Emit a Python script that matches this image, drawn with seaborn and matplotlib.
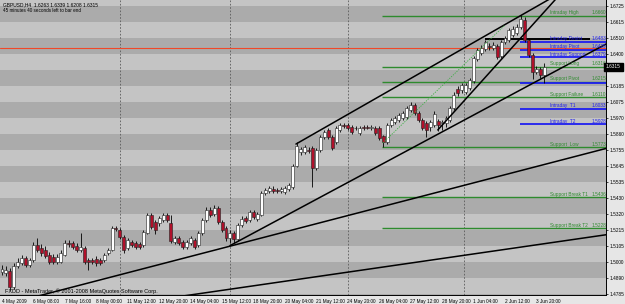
import matplotlib
matplotlib.use("Agg")
import matplotlib.pyplot as plt
import matplotlib.transforms as mtransforms
import numpy as np
import pandas as pd
import seaborn as sns

# ---------------- data ----------------
opens = [1.4933, 1.4926, 1.4940, 1.4832, 1.4974, 1.4994, 1.5027, 1.4980, 1.5014, 1.5115,
         1.5095, 1.5081, 1.5048, 1.5034, 1.5001, 1.5001, 1.5048, 1.5128, 1.5128, 1.5108,
         1.5081, 1.5095, 1.5014, 1.5014, 1.5021, 1.5014, 1.5014, 1.5061, 1.5081, 1.5230,
         1.5216, 1.5169, 1.5095, 1.5135, 1.5128, 1.5122, 1.5115, 1.5196, 1.5317, 1.5270,
         1.5263, 1.5283, 1.5317, 1.5263, 1.5135, 1.5162, 1.5135, 1.5102, 1.5128, 1.5149,
         1.5115, 1.5196, 1.5283, 1.5351, 1.5324, 1.5364, 1.5270, 1.5230, 1.5162, 1.5196,
         1.5155, 1.5250, 1.5297, 1.5283, 1.5337, 1.5290, 1.5317, 1.5465, 1.5479, 1.5492,
         1.5486, 1.5479, 1.5472, 1.5492, 1.5506, 1.5647, 1.5741, 1.5741, 1.5755, 1.5768,
         1.5634, 1.5755, 1.5843, 1.5890, 1.5843, 1.5809, 1.5890, 1.5923, 1.5923, 1.5910,
         1.5903, 1.5870, 1.5910, 1.5910, 1.5903, 1.5903, 1.5903, 1.5849, 1.5809, 1.5923,
         1.5944, 1.5957, 1.5971, 1.5977, 1.6024, 1.6058, 1.6004, 1.5957, 1.5937, 1.5910,
         1.5923, 1.5950, 1.5937, 1.5937, 1.5957, 1.6038, 1.6166, 1.6159, 1.6146, 1.6173,
         1.6220, 1.6368, 1.6408, 1.6435, 1.6456, 1.6442, 1.6456, 1.6388, 1.6483, 1.6496,
         1.6530, 1.6543, 1.6584, 1.6631, 1.6496, 1.6395, 1.6280, 1.6301, 1.6263]
closes = [1.4953, 1.4947, 1.4832, 1.4974, 1.5001, 1.5027, 1.4980, 1.5014, 1.5115, 1.5081,
          1.5061, 1.5041, 1.5001, 1.5001, 1.5034, 1.5061, 1.5128, 1.5122, 1.5102, 1.5081,
          1.5102, 1.5001, 1.5001, 1.5001, 1.4994, 1.4994, 1.5048, 1.5081, 1.5230, 1.5223,
          1.5169, 1.5081, 1.5149, 1.5115, 1.5102, 1.5102, 1.5203, 1.5317, 1.5236, 1.5216,
          1.5297, 1.5317, 1.5283, 1.5142, 1.5162, 1.5128, 1.5102, 1.5135, 1.5162, 1.5102,
          1.5196, 1.5283, 1.5351, 1.5317, 1.5364, 1.5270, 1.5216, 1.5162, 1.5196, 1.5155,
          1.5250, 1.5290, 1.5277, 1.5337, 1.5304, 1.5324, 1.5465, 1.5486, 1.5499, 1.5479,
          1.5479, 1.5492, 1.5499, 1.5519, 1.5647, 1.5782, 1.5762, 1.5775, 1.5751, 1.5634,
          1.5755, 1.5843, 1.5876, 1.5843, 1.5768, 1.5903, 1.5923, 1.5917, 1.5903, 1.5876,
          1.5900, 1.5903, 1.5903, 1.5906, 1.5910, 1.5870, 1.5836, 1.5809, 1.5923, 1.5957,
          1.5971, 1.5991, 1.6004, 1.6038, 1.6058, 1.6004, 1.5957, 1.5903, 1.5890, 1.5944,
          1.5997, 1.5923, 1.5944, 1.5971, 1.6038, 1.6125, 1.6139, 1.6193, 1.6193, 1.6227,
          1.6375, 1.6429, 1.6442, 1.6483, 1.6449, 1.6462, 1.6381, 1.6483, 1.6509, 1.6563,
          1.6570, 1.6584, 1.6637, 1.6496, 1.6395, 1.6280, 1.6301, 1.6260, 1.6315]
highs = [1.4980, 1.4974, 1.4960, 1.4994, 1.5027, 1.5048, 1.5041, 1.5027, 1.5135, 1.5162,
         1.5122, 1.5108, 1.5068, 1.5054, 1.5054, 1.5081, 1.5149, 1.5149, 1.5142, 1.5128,
         1.5196, 1.5108, 1.5027, 1.5027, 1.5041, 1.5027, 1.5061, 1.5095, 1.5243, 1.5243,
         1.5230, 1.5182, 1.5162, 1.5149, 1.5142, 1.5135, 1.5216, 1.5331, 1.5331, 1.5283,
         1.5310, 1.5331, 1.5331, 1.5317, 1.5176, 1.5176, 1.5149, 1.5149, 1.5176, 1.5162,
         1.5209, 1.5297, 1.5371, 1.5371, 1.5385, 1.5378, 1.5283, 1.5243, 1.5216, 1.5209,
         1.5263, 1.5310, 1.5310, 1.5351, 1.5351, 1.5337, 1.5479, 1.5499, 1.5513, 1.5513,
         1.5499, 1.5506, 1.5513, 1.5533, 1.5661, 1.5809, 1.5775, 1.5789, 1.5775, 1.5782,
         1.5768, 1.5856, 1.5890, 1.5903, 1.5856, 1.5917, 1.5937, 1.5937, 1.5937, 1.5923,
         1.5917, 1.5917, 1.5923, 1.5923, 1.5923, 1.5917, 1.5917, 1.5856, 1.5937, 1.5971,
         1.5984, 1.6004, 1.6018, 1.6051, 1.6078, 1.6072, 1.6018, 1.5971, 1.5950, 1.5957,
         1.6018, 1.5964, 1.5957, 1.5984, 1.6051, 1.6146, 1.6186, 1.6206, 1.6206, 1.6240,
         1.6388, 1.6442, 1.6462, 1.6496, 1.6476, 1.6483, 1.6469, 1.6496, 1.6523, 1.6577,
         1.6590, 1.6604, 1.6661, 1.6651, 1.6509, 1.6408, 1.6321, 1.6314, 1.6339]
lows = [1.4913, 1.4906, 1.4812, 1.4819, 1.4960, 1.4980, 1.4967, 1.4967, 1.5001, 1.5068,
        1.5041, 1.5027, 1.4987, 1.4987, 1.4987, 1.4994, 1.5041, 1.5102, 1.5088, 1.5068,
        1.5068, 1.4987, 1.4947, 1.4987, 1.4974, 1.4980, 1.5001, 1.5048, 1.5075, 1.5209,
        1.5155, 1.5061, 1.5081, 1.5102, 1.5088, 1.5088, 1.5102, 1.5189, 1.5223, 1.5189,
        1.5243, 1.5270, 1.5270, 1.5128, 1.5122, 1.5115, 1.5088, 1.5088, 1.5115, 1.5088,
        1.5102, 1.5182, 1.5270, 1.5304, 1.5310, 1.5256, 1.5203, 1.5142, 1.5128, 1.5128,
        1.5142, 1.5236, 1.5263, 1.5270, 1.5290, 1.5277, 1.5310, 1.5452, 1.5465, 1.5465,
        1.5465, 1.5465, 1.5459, 1.5479, 1.5492, 1.5640, 1.5721, 1.5728, 1.5735, 1.5506,
        1.5620, 1.5741, 1.5829, 1.5829, 1.5755, 1.5795, 1.5876, 1.5903, 1.5890, 1.5863,
        1.5890, 1.5856, 1.5890, 1.5896, 1.5890, 1.5856, 1.5822, 1.5775, 1.5795, 1.5910,
        1.5930, 1.5944, 1.5957, 1.5964, 1.6011, 1.5991, 1.5944, 1.5890, 1.5843, 1.5883,
        1.5910, 1.5883, 1.5890, 1.5910, 1.5944, 1.6024, 1.6119, 1.6139, 1.6132, 1.6159,
        1.6206, 1.6355, 1.6395, 1.6422, 1.6429, 1.6429, 1.6368, 1.6375, 1.6469, 1.6483,
        1.6516, 1.6530, 1.6570, 1.6483, 1.6381, 1.6233, 1.6267, 1.6240, 1.6208]

time_labels = ["4 May 2009", "6 May 08:00", "7 May 16:00", "8 May 00:00", "11 May 12:00",
               "12 May 20:00", "14 May 04:00", "15 May 12:00", "18 May 20:00", "20 May 04:00",
               "21 May 12:00", "24 May 20:00", "26 May 04:00", "27 May 12:00", "28 May 20:00",
               "1 Jun 04:00", "2 Jun 12:00", "3 Jun 20:00"]
price_labels = ["1.6725", "1.6615", "1.6510", "1.6400", "1.6295", "1.6185", "1.6075", "1.5970",
                "1.5860", "1.5755", "1.5645", "1.5535", "1.5430", "1.5320", "1.5215",
                "1.5105", "1.5000", "1.4890", "1.4785"]

header_line1 = "GBPUSD,H4  1.6263 1.6339 1.6208 1.6315"
header_line2 = "45 minutes 40 seconds left to bar end"
copyright_text = "FXDD - MetaTrader, \u00a9 2001-2008 MetaQuotes Software Corp."
current_price = 1.6315

level_names = ["Intraday High", "Intraday Resist", "Intraday Pivot", "Intraday Support",
               "Support Long", "Support Pivot", "Support Failure", "Intraday  T1",
               "Intraday  T2", "Support  Low", "Support Break T1", "Support Break T2"]
level_values = [1.6660, 1.6483, 1.6429, 1.6379, 1.6316, 1.6215, 1.6110, 1.6033,
                1.5928, 1.5773, 1.5436, 1.5228]
level_groups = ["support", "intraday", "intraday", "intraday", "support", "support",
                "support", "intraday", "intraday", "support", "support", "support"]
extra_blue_level = 1.6204
red_pivot_level = 1.6439
prev_high_level = 1.6503

# trend lines: two anchor points each (bar index, price)
trend_lines = {
    "a": [(12.2, 1.4792), (152.2, 1.5755)],
    "b": [(47.8, 1.4778), (153.7, 1.5184)],
    "d": [(59.3, 1.5129), (147.6, 1.6382)],
    "e": [(110.9, 1.5890), (140.7, 1.6765)],
    "f": [(74.8, 1.5795), (138.9, 1.6765)],
}
channel_dotted = [(96.9, 1.5802), (128.0, 1.6597)]
week_separators = [30, 58, 88, 117.6]

# ---------------- styling ----------------
sns.set_theme(style="white")
plt.rcParams["font.family"] = ["Liberation Sans", "DejaVu Sans"]

W, H = 625, 304
fig = plt.figure(figsize=(W / 100, H / 100), dpi=100)
fig.patch.set_facecolor("#E6E6E6")
ax = fig.add_axes([0, 9 / H, 606 / W, 295 / H])
ax.set_facecolor("#C4C4C4")

XMIN, XMAX = -0.51, 153.7
YMIN, YMAX = 1.47782, 1.67654
ax.set_xlim(XMIN, XMAX)
ax.set_ylim(YMIN, YMAX)

# price grid (label positions) and alternating bands between grid lines
grid_top, grid_bot = float(price_labels[0]), float(price_labels[-1])
step = (grid_top - grid_bot) / (len(price_labels) - 1)
grid_levels = grid_top - step * np.arange(len(price_labels))
for k in range(-1, len(price_labels)):
    top = grid_top - k * step
    col = "#ABABAB" if k % 2 == 0 else "#C4C4C4"
    ax.axhspan(top - step, top, color=col, lw=0, zorder=0)

# week separators
for xs in week_separators:
    ax.axvline(xs, color="#5A5A5A", lw=0.6, ls=(0, (2, 2)), zorder=1)

# horizontal levels
blue = "#1E1EF0"
green = "#2E8B2E"
for name, val, grp in zip(level_names, level_values, level_groups):
    if grp == "intraday":
        x0, col, lw = 131.8, blue, 1.3
    else:
        x0, col, lw = 96.7, green, 1.0
    ax.hlines(val, x0, XMAX, color=col, lw=lw, zorder=2)
    ax.text(139.4, val + 0.0004, name, fontsize=3.4, color=col, ha="left", va="bottom", zorder=6)
    ax.text(150.0, val + 0.0004, f"{val:.4f}", fontsize=3.4, color=col, ha="left", va="bottom", zorder=6)
ax.hlines(extra_blue_level, 131.8, XMAX, color=blue, lw=1.3, zorder=2)
ax.axhline(red_pivot_level, color="#F04828", lw=0.8, zorder=2)
ax.hlines(prev_high_level, 122.9, 149.6, color="black", lw=1.4, zorder=2)

# trend lines (seaborn)
def extend(p0, p1, xs, xe):
    s = (p1[1] - p0[1]) / (p1[0] - p0[0])
    return [xs, xe], [p0[1] + s * (xs - p0[0]), p0[1] + s * (xe - p0[0])]

spans = {"a": (-1, 155), "b": (40, 155), "d": (58, 155), "e": (110.9, 155), "f": (74.8, 155)}
for key, (p0, p1) in trend_lines.items():
    xs, ys = extend(p0, p1, *spans[key])
    sns.lineplot(x=xs, y=ys, ax=ax, color="black", lw=1.1, legend=False, zorder=5)
xs, ys = extend(channel_dotted[0], channel_dotted[1], channel_dotted[0][0], channel_dotted[1][0])
ax.plot(xs, ys, color="#3CB043", lw=0.6, ls=(0, (1.5, 1.5)), zorder=5)

# candles
o = np.array(opens); c = np.array(closes)
hi = np.array(highs); lo_ = np.array(lows)
idx = np.arange(len(o))
up = c >= o
ax.vlines(idx, lo_, hi, color="black", lw=0.6, zorder=3)
body = np.maximum(np.abs(c - o), 0.00012)
bottom = np.minimum(o, c)
ax.bar(idx[up], body[up], bottom=bottom[up], width=0.76, color="white",
       edgecolor="#202020", lw=0.4, zorder=4)
ax.bar(idx[~up], body[~up], bottom=bottom[~up], width=0.76, color="#B0102A",
       edgecolor="#202020", lw=0.4, zorder=4)

# axes / ticks
for s in ["left", "top"]:
    ax.spines[s].set_visible(False)
for s in ["right", "bottom"]:
    ax.spines[s].set_visible(True)
    ax.spines[s].set_color("black")
    ax.spines[s].set_linewidth(0.7)

ax.yaxis.tick_right()
ax.set_yticks(grid_levels)
ax.set_yticklabels(price_labels, fontsize=3.4)
ax.tick_params(axis="y", length=1.5, width=0.5, pad=0.8, colors="black")

tick_pos = np.arange(len(time_labels)) * 8 - 0.4
ax.set_xticks(tick_pos)
ax.set_xticklabels(time_labels, fontsize=3.4, ha="left")
ax.tick_params(axis="x", length=2, width=0.5, pad=0.6, colors="black")
off = mtransforms.ScaledTranslation(1.2 / 100, 0, fig.dpi_scale_trans)
for lab in ax.get_xticklabels():
    lab.set_transform(lab.get_transform() + off)
ax.grid(False)

# current price box (covers the hidden grid label beneath it)
ax.text(1.0, current_price, f"{current_price:.4f}", transform=ax.get_yaxis_transform(),
        ha="left", va="center", fontsize=3.4, color="white", zorder=10, clip_on=False,
        bbox=dict(boxstyle="square,pad=0.35", fc="black", ec="black"))

# texts
fig.text(3 / W, 1 - 2 / H, header_line1, fontsize=3.5, ha="left", va="top", color="black")
fig.text(3 / W, 1 - 8 / H, header_line2, fontsize=3.3, ha="left", va="top", color="black")
ax.text(0.8, YMIN + 0.0009, copyright_text, fontsize=4.0, ha="left", va="bottom",
        color="black", zorder=6)

fig.savefig("out.png", dpi=100, facecolor=fig.get_facecolor())
